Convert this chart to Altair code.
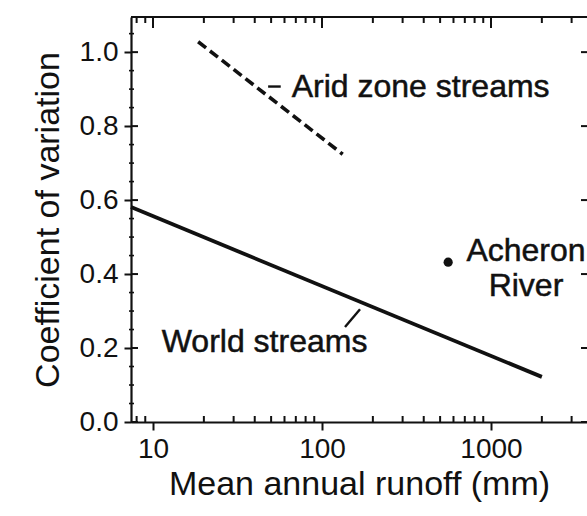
import altair as alt
import pandas as pd

# Fitted relations: coefficient of variation vs mean annual runoff
world_runoff = [7.41, 2000]
world_cv = [0.581, 0.122]
arid_runoff = [18.5, 132.6]
arid_cv = [1.028, 0.724]

# Single river observation
point_runoff = [558]
point_cv = [0.432]

# Axis ticks
x_major = [10, 100, 1000]
x_minor = [8, 9, 20, 30, 40, 50, 60, 70, 80, 90,
           200, 300, 400, 500, 600, 700, 800, 900, 2000, 3000]
y_major = [0.0, 0.2, 0.4, 0.6, 0.8, 1.0]
y_minor = [0.05, 0.1, 0.15, 0.25, 0.3, 0.35, 0.45, 0.5, 0.55,
           0.65, 0.7, 0.75, 0.85, 0.9, 0.95, 1.05]

# Annotation text and anchors
side_text = ["Arid zone streams", "World streams"]
side_x = [66.2, 11.26]
side_y = [0.907, 0.215]
river_text = ["Acheron", "River"]
river_x = [1611, 1611]
river_y = [0.463, 0.369]

leader_x = [48, 136.8]
leader_x2 = [57, 167.9]
leader_y = [0.907, 0.257]
leader_y2 = [0.907, 0.305]

W, H = 456, 405
FONT = "Liberation Sans"
INK = "#111111"

xs = alt.Scale(type="log", domain=[7.41, 3700], nice=False)
ys = alt.Scale(domain=[0, 1.095], nice=False, zero=False)

world = pd.DataFrame({"runoff": world_runoff, "cv": world_cv})
arid = pd.DataFrame({"runoff": arid_runoff, "cv": arid_cv})
pts = pd.DataFrame({"runoff": point_runoff, "cv": point_cv})
side = pd.DataFrame({"text": side_text, "runoff": side_x, "cv": side_y})
river = pd.DataFrame({"text": river_text, "runoff": river_x, "cv": river_y})
leaders = pd.DataFrame({"x": leader_x, "x2": leader_x2, "y": leader_y, "y2": leader_y2})
xmaj = pd.DataFrame({"v": x_major})
xmin = pd.DataFrame({"v": x_minor})
ymaj = pd.DataFrame({"v": y_major})
ymin = pd.DataFrame({"v": y_minor})

x_axis = alt.Axis(values=x_major, format="d", title="Mean annual runoff (mm)",
                  labelFontSize=28, titleFontSize=34, labelFont=FONT, titleFont=FONT,
                  labelColor=INK, titleColor=INK, tickSize=8, tickWidth=2,
                  tickColor=INK, domainColor=INK, domainWidth=2.2, grid=False,
                  labelPadding=5, titlePadding=4, titleFontWeight="normal")
y_axis = alt.Axis(values=y_major, format=".1f", title="Coefficient of variation",
                  labelFontSize=28, titleFontSize=34, labelFont=FONT, titleFont=FONT,
                  labelColor=INK, titleColor=INK, tickSize=7, tickWidth=2,
                  tickColor=INK, domainColor=INK, domainWidth=2.2, grid=False,
                  labelPadding=6, titlePadding=14, titleFontWeight="normal")

world_line = alt.Chart(world).mark_line(color=INK, strokeWidth=3.8).encode(
    x=alt.X("runoff:Q", scale=xs, axis=x_axis),
    y=alt.Y("cv:Q", scale=ys, axis=y_axis),
)

arid_line = alt.Chart(arid).mark_line(color=INK, strokeWidth=3.6,
                                      strokeDash=[10, 5]).encode(
    x=alt.X("runoff:Q", scale=xs), y=alt.Y("cv:Q", scale=ys))

dot = alt.Chart(pts).mark_circle(color=INK, size=85, opacity=1).encode(
    x=alt.X("runoff:Q", scale=xs), y=alt.Y("cv:Q", scale=ys))

side_labels = alt.Chart(side).mark_text(font=FONT, fontSize=32, color=INK,
                                        stroke=INK, strokeWidth=0.5,
                                        align="left", baseline="middle").encode(
    x=alt.X("runoff:Q", scale=xs), y=alt.Y("cv:Q", scale=ys), text="text:N")

river_labels = alt.Chart(river).mark_text(font=FONT, fontSize=32, color=INK,
                                          stroke=INK, strokeWidth=0.5,
                                          align="center", baseline="middle").encode(
    x=alt.X("runoff:Q", scale=xs), y=alt.Y("cv:Q", scale=ys), text="text:N")

leader = alt.Chart(leaders).mark_rule(color=INK, strokeWidth=2.4).encode(
    x=alt.X("x:Q", scale=xs), x2="x2:Q",
    y=alt.Y("y:Q", scale=ys), y2="y2:Q")

# Frame pieces: top edge and inward tick marks
top_edge = alt.Chart(xmaj).mark_rule(color=INK, strokeWidth=2.2).encode(
    x=alt.value(0), x2=alt.value(W), y=alt.value(0))

top_minor = alt.Chart(xmin).mark_rule(color=INK, strokeWidth=2).encode(
    x=alt.X("v:Q", scale=xs), y=alt.value(0), y2=alt.value(6))
top_major = alt.Chart(xmaj).mark_rule(color=INK, strokeWidth=2).encode(
    x=alt.X("v:Q", scale=xs), y=alt.value(0), y2=alt.value(11))
bottom_minor = alt.Chart(xmin).mark_rule(color=INK, strokeWidth=2).encode(
    x=alt.X("v:Q", scale=xs), y=alt.value(H), y2=alt.value(H - 6))
left_in = alt.Chart(ymaj).mark_rule(color=INK, strokeWidth=2).encode(
    y=alt.Y("v:Q", scale=ys), x=alt.value(0), x2=alt.value(7))
left_minor = alt.Chart(ymin).mark_rule(color=INK, strokeWidth=1.6).encode(
    y=alt.Y("v:Q", scale=ys), x=alt.value(-2), x2=alt.value(3))
right_in = alt.Chart(ymaj).mark_rule(color=INK, strokeWidth=2).encode(
    y=alt.Y("v:Q", scale=ys), x=alt.value(W - 6), x2=alt.value(W))

chart = alt.layer(
    world_line, arid_line, dot, side_labels, river_labels, leader,
    top_edge, top_minor, top_major, bottom_minor, left_in, left_minor, right_in,
).properties(
    width=W, height=H,
    autosize=alt.AutoSizeParams(type="none"),
    padding={"left": 131, "top": 17, "right": 0, "bottom": 94},
    background="white",
).configure_view(strokeWidth=0)

chart.save("out.html", embed_options={"renderer": "svg", "actions": False})
